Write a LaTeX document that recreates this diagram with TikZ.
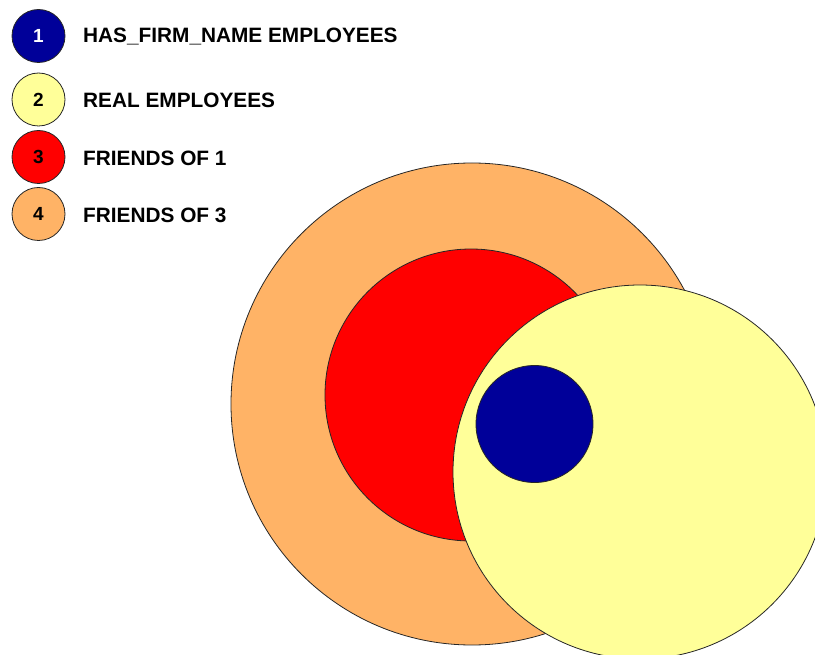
\documentclass[tikz,border=0pt]{standalone}
\usepackage{fontspec}
\setmainfont{Liberation Sans}
\definecolor{cblue}{RGB}{0,0,153}
\definecolor{cyellow}{RGB}{255,255,153}
\definecolor{cred}{RGB}{255,0,0}
\definecolor{corange}{RGB}{255,179,102}
\tikzset{
  blob/.style={circle, draw=black!85, line width=0.8pt, inner sep=0pt},
  legdot/.style={blob, minimum size=53pt, font=\fontsize{19}{19}\selectfont\bfseries},
  legtext/.style={anchor=west, inner sep=0pt, font=\fontsize{20.8}{21}\selectfont\bfseries}
}
\begin{document}
\begin{tikzpicture}[x=1pt,y=-1pt]
\useasboundingbox (0,0) rectangle (815,655);
\clip (0,0) rectangle (815,655);
% legend
\node[legdot, fill=cblue, text=white] (l1) at (38.5,36) {1};
\node[legdot, fill=cyellow] (l2) at (38.5,99.5) {2};
\node[legdot, fill=cred] (l3) at (38.5,157) {3};
\node[legdot, fill=corange] (l4) at (38.5,214) {4};
\node[legtext] (t1) at (83,37) {HAS\_FIRM\_NAME EMPLOYEES};
\node[legtext] (t2) at (83,100.5) {REAL EMPLOYEES};
\node[legtext] (t3) at (83,158) {FRIENDS OF 1};
\node[legtext] (t4) at (83,215) {FRIENDS OF 3};
% circles
\node[blob, fill=corange, minimum size=482pt] (c4) at (472,404) {};
\node[blob, fill=cred, minimum size=292pt] (c3) at (471,395) {};
\node[blob, fill=cyellow, minimum size=374pt] (c2) at (640,472) {};
\node[blob, fill=cblue, minimum size=117pt] (c1) at (534.5,424) {};
\end{tikzpicture}
\end{document}
